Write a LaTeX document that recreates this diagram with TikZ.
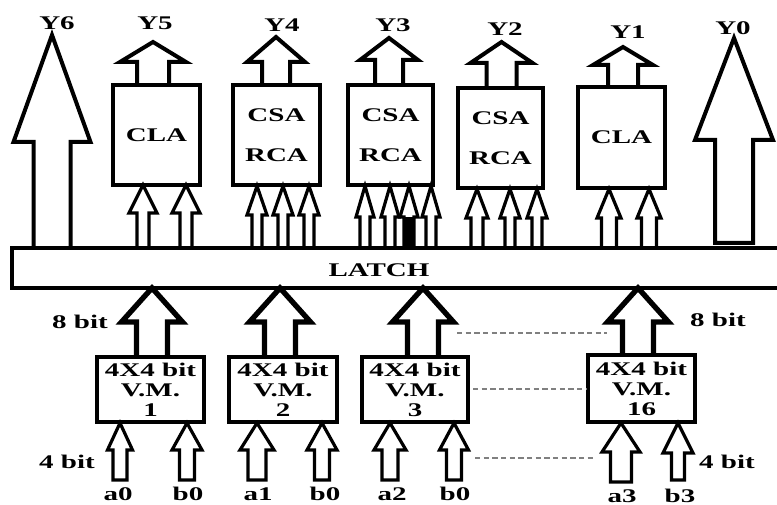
\documentclass[tikz,border=0pt]{standalone}
\usepackage{fontspec}
\setmainfont{Liberation Serif}[FakeStretch=1.5]
\usetikzlibrary{positioning}

% block arrow: style, centre x, bottom y, head-base y, tip y, half shaft, half head
\newcommand\blk[7]{%
  \draw[#1] ({#2-#6},#3) -- ({#2-#6},#4) -- ({#2-#7},#4) -- (#2,#5)
    -- ({#2+#7},#4) -- ({#2+#6},#4) -- ({#2+#6},#3);}
% same, closed at the bottom
\newcommand\blkc[7]{%
  \draw[#1] ({#2-#6},#3) -- ({#2-#6},#4) -- ({#2-#7},#4) -- (#2,#5)
    -- ({#2+#7},#4) -- ({#2+#6},#4) -- ({#2+#6},#3) -- cycle;}

\begin{document}
\begin{tikzpicture}[x=0.75pt,y=-0.75pt,
  txt/.style={font=\bfseries\fontsize{14.5}{15}\selectfont, inner sep=0pt},
  unit/.style={draw, line width=3pt, inner sep=0pt, align=center,
    font=\bfseries\fontsize{14.5}{30}\selectfont},
  vm/.style={draw, line width=3pt, inner sep=0pt, align=center,
    minimum height=48.75pt, font=\bfseries\fontsize{14.5}{15}\selectfont},
  outarr/.style={line width=3pt, line join=miter},
  inarr/.style={line width=2.4pt, line join=miter},
  busarr/.style={line width=4pt, line join=miter},
  bigarr/.style={line width=3pt, line join=miter},
  dots/.style={gray, line width=1.1pt, dash pattern=on 4pt off 2.5pt}]

\useasboundingbox (0,0) rectangle (777,505);

% adder blocks
\node[unit, minimum width=65.25pt, minimum height=75pt] (u5) at (156.5,135) {CLA};
\node[unit, minimum width=65.25pt, minimum height=75pt] (u4) at (276.5,135) {CSA\\RCA};
\node[unit, minimum width=63.75pt, minimum height=75pt] (u3) at (390.5,135) {CSA\\RCA};
\node[unit, minimum width=63.75pt, minimum height=75pt] (u2) at (500.5,138) {CSA\\RCA};
\node[unit, minimum width=65.25pt, minimum height=75.75pt] (u1) at (621.5,137.5) {CLA};

% latch bar (runs off the right edge)
\node[draw, line width=2.6pt, minimum width=591pt, minimum height=30pt, inner sep=0pt] (latch) at (406,268) {};
\node[txt] (latchtxt) at (379,270) {LATCH};

% 4x4 multipliers
\node[vm, minimum width=80.25pt] (m1) at (150.5,389.5) {4X4 bit\\V.M.\\1};
\node[vm, minimum width=81pt] (m2) at (283,389.5) {4X4 bit\\V.M.\\2};
\node[vm, minimum width=79.5pt] (m3) at (415,389.5) {4X4 bit\\V.M.\\3};
\node[vm, minimum width=80.25pt, minimum height=50.25pt] (m16) at (641.5,388.5) {4X4 bit\\V.M.\\16};

% outputs
\blk{bigarr}{52}{248}{142}{35}{18.5}{38.5}
\blkc{bigarr}{734}{243}{140}{38}{19}{39}
\blk{outarr}{153}{85}{62}{42}{16}{33}
\blk{outarr}{276}{85}{62}{37}{14}{29}
\blk{outarr}{389}{85}{60}{38}{14}{29}
\blk{outarr}{501.5}{88}{63}{42}{15}{31}
\blk{outarr}{623}{87}{65}{47}{15}{30}

\node[txt] (y6) at (57,23) {Y6};
\node[txt] (y5) at (155,23) {Y5};
\node[txt] (y4) at (282,25) {Y4};
\node[txt] (y3) at (393,25) {Y3};
\node[txt] (y2) at (505,29) {Y2};
\node[txt] (y1) at (628,32) {Y1};
\node[txt] (y0) at (733,28) {Y0};

% latch to adders
\blk{inarr}{143}{248}{213}{185}{6}{14}
\blk{inarr}{186}{248}{213}{185}{6}{14}
\blk{inarr}{257}{248}{215}{186}{5}{10}
\blk{inarr}{283}{248}{215}{186}{5}{10}
\blk{inarr}{309}{248}{215}{186}{5}{10}
\blk{inarr}{365}{248}{217}{186}{5}{9}
\blk{inarr}{390}{248}{217}{186}{5}{9}
\fill (404,217) rectangle (414,248);
\blk{inarr}{409}{248}{217}{186}{5}{9}
\blk{inarr}{431}{248}{217}{186}{5}{9}
\blk{inarr}{477}{248}{218}{189}{6}{11}
\blk{inarr}{510}{248}{218}{189}{5}{10}
\blk{inarr}{537}{248}{218}{189}{5}{10}
\blk{inarr}{609}{248}{218}{189}{7.5}{12}
\blk{inarr}{649}{248}{218}{189}{7.5}{12}

% multipliers to latch
\blk{busarr}{152}{357}{322}{288}{15.5}{30.5}
\blk{busarr}{280}{357}{322}{288}{15.5}{30.5}
\blk{busarr}{423}{356}{322}{288}{15.5}{30.5}
\blk{busarr}{638}{355}{322}{288}{15.5}{30.5}

% operand inputs
\blkc{inarr}{120}{480}{450}{423}{7}{12.5}
\blkc{inarr}{187}{480}{450}{423}{7.5}{15}
\blkc{inarr}{257}{480}{450}{423}{9}{17}
\blkc{inarr}{322}{480}{450}{423}{7.5}{15}
\blkc{inarr}{390}{480}{450}{423}{8}{16}
\blkc{inarr}{454}{480}{450}{423}{7.5}{14.5}
\blkc{inarr}{621}{482}{452}{423}{10.5}{19}
\blkc{inarr}{678}{480}{453}{423}{6.5}{15}

\node[txt] (la0) at (118,494) {a0};
\node[txt] (lb0a) at (188,494) {b0};
\node[txt] (la1) at (258,494.5) {a1};
\node[txt] (lb0b) at (325,494) {b0};
\node[txt] (la2) at (392,494) {a2};
\node[txt] (lb0c) at (455,494) {b0};
\node[txt] (la3) at (622,496) {a3};
\node[txt] (lb3) at (680,495.5) {b3};

% width labels
\node[txt] (w8l) at (80,322) {8 bit};
\node[txt] (w4l) at (67,462) {4 bit};
\node[txt] (w8r) at (718,320) {8 bit};
\node[txt] (w4r) at (727,462) {4 bit};

% continuation marks between multiplier 3 and 16
\coordinate (d1a) at (457,333); \coordinate (d1b) at (607,333);
\coordinate (d2a) at (473,389); \coordinate (d2b) at (587,389);
\coordinate (d3a) at (475,458); \coordinate (d3b) at (595,458);
\draw[dots] (d1a) -- (d1b);
\draw[dots] (d2a) -- (d2b);
\draw[dots] (d3a) -- (d3b);
\end{tikzpicture}
\end{document}
